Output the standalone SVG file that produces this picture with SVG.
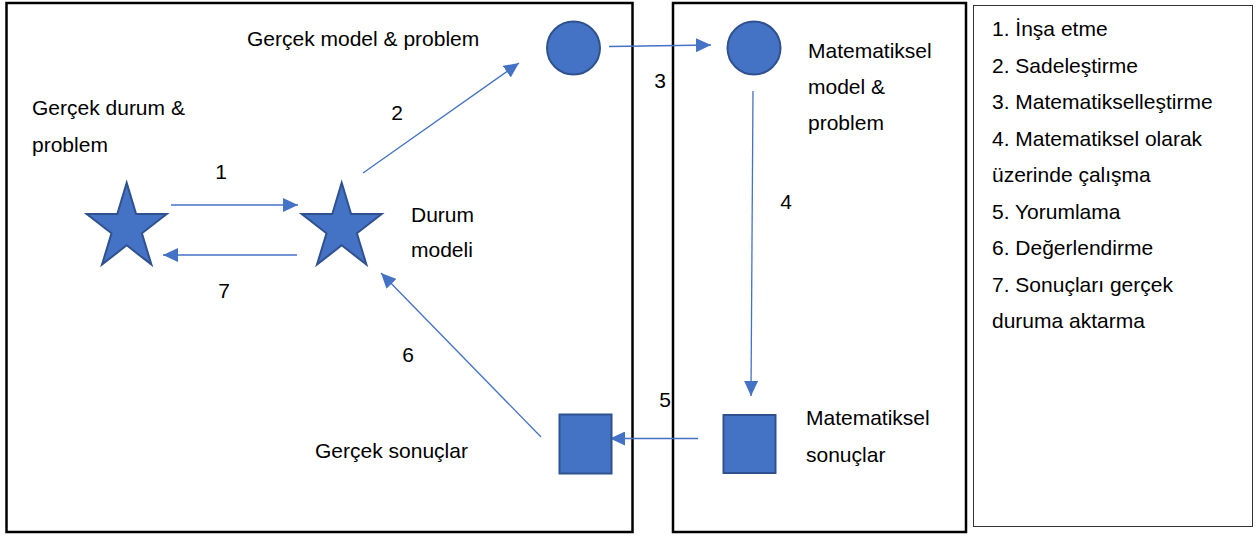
<svg xmlns="http://www.w3.org/2000/svg" width="1260" height="536" viewBox="0 0 1260 536">
<style>
  text { font-family: "Liberation Sans", Arial, sans-serif; font-size: 21px; fill: #000; }
  .num { text-anchor: middle; }
  .frame { fill: none; stroke: #000; stroke-width: 2.5; }
  .legend { fill: #fff; stroke: #333; stroke-width: 1; }
  .shape { fill: #4472C4; stroke: #2F528F; stroke-width: 2; }
  .conn { fill: none; stroke: #4472C4; stroke-width: 1.3; marker-end: url(#arrow); }
</style>
<defs>
  <marker id="arrow" markerUnits="userSpaceOnUse" markerWidth="16" markerHeight="14" refX="15" refY="7" orient="auto">
    <path d="M0,0 L15,7 L0,14 Z" fill="#4472C4"/>
  </marker>
  <path id="star" d="M0,-45.3 L9.4,-14 L40,-14 L15.2,5.3 L24.7,36.6 L0,17.3 L-24.7,36.6 L-15.2,5.3 L-40,-14 L-9.4,-14 Z"/>
</defs>
<rect width="1260" height="536" fill="#fff"/>

<g id="frames">
  <rect class="frame" x="6.5" y="3" width="626" height="529"/>
  <rect class="frame" x="673" y="3" width="293" height="529"/>
</g>

<g id="connectors">
  <line class="conn" x1="171" y1="205" x2="298" y2="205"/>
  <line class="conn" x1="297" y1="255" x2="163" y2="255"/>
  <line class="conn" x1="363" y1="173" x2="519" y2="63"/>
  <line class="conn" x1="609" y1="46.5" x2="711" y2="45"/>
  <line class="conn" x1="753" y1="91" x2="751" y2="396"/>
  <line class="conn" x1="698" y1="438.5" x2="610" y2="438.5"/>
  <line class="conn" x1="541" y1="437" x2="381" y2="273"/>
  <text class="num" x="221" y="179">1</text>
  <text class="num" x="397" y="120">2</text>
  <text class="num" x="660" y="88">3</text>
  <text class="num" x="786" y="209">4</text>
  <text class="num" x="665" y="407">5</text>
  <text class="num" x="408" y="362">6</text>
  <text class="num" x="224" y="298">7</text>
</g>

<g id="node-gercek-durum">
  <use href="#star" class="shape" x="126.7" y="228"/>
  <text x="32" y="115">Gerçek durum &amp;</text>
  <text x="32" y="152">problem</text>
</g>

<g id="node-durum-modeli">
  <use href="#star" class="shape" x="341.7" y="228"/>
  <text x="411" y="222">Durum</text>
  <text x="411" y="257">modeli</text>
</g>

<g id="node-gercek-model">
  <circle class="shape" cx="573.5" cy="48" r="26.5"/>
  <text x="247" y="46">Gerçek model &amp; problem</text>
</g>

<g id="node-mat-model">
  <circle class="shape" cx="754" cy="48" r="26.5"/>
  <text x="808" y="58">Matematiksel</text>
  <text x="808" y="94">model &amp;</text>
  <text x="808" y="130">problem</text>
</g>

<g id="node-mat-sonuclar">
  <rect class="shape" x="723.5" y="415" width="52" height="58"/>
  <text x="806" y="425">Matematiksel</text>
  <text x="806" y="462">sonuçlar</text>
</g>

<g id="node-gercek-sonuclar">
  <rect class="shape" x="559.5" y="414.5" width="52" height="59"/>
  <text x="315" y="458">Gerçek sonuçlar</text>
</g>

<g id="legend">
  <rect class="legend" x="973.5" y="5.5" width="279" height="521"/>
  <text x="992" y="36">1. İnşa etme</text>
  <text x="992" y="72.5">2. Sadeleştirme</text>
  <text x="992" y="109">3. Matematikselleştirme</text>
  <text x="992" y="145.5">4. Matematiksel olarak</text>
  <text x="992" y="182">üzerinde çalışma</text>
  <text x="992" y="218.5">5. Yorumlama</text>
  <text x="992" y="255">6. Değerlendirme</text>
  <text x="992" y="291.5">7. Sonuçları gerçek</text>
  <text x="992" y="328">duruma aktarma</text>
</g>
</svg>
